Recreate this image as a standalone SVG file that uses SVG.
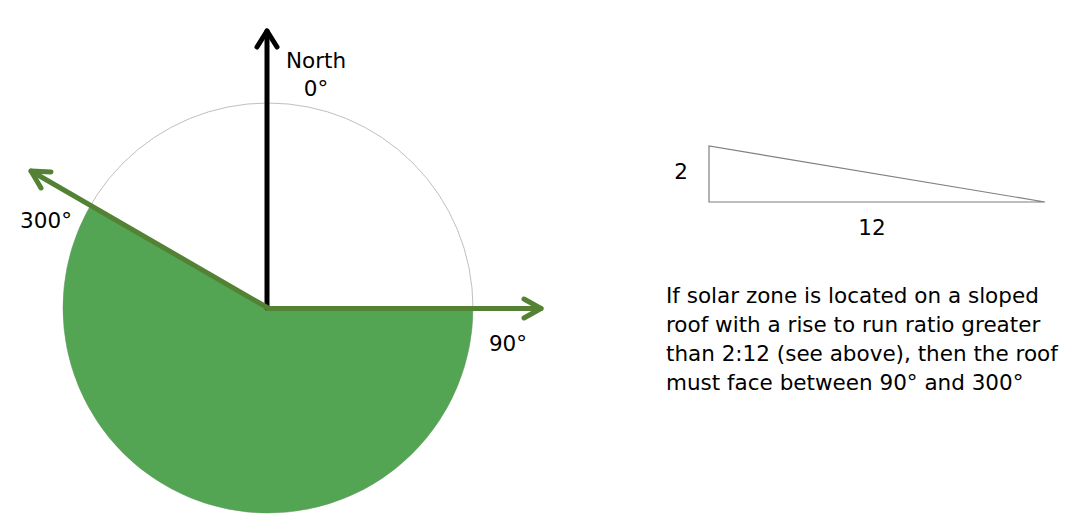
<svg xmlns="http://www.w3.org/2000/svg" width="1070" height="529" viewBox="0 0 1070 529">
<style>
text{font-family:"DejaVu Sans","Liberation Sans",sans-serif;font-size:21.5px;fill:#000}
.garrow{stroke:#548235;stroke-width:5;fill:none;stroke-linecap:round;stroke-linejoin:round}
.karrow{stroke:#000;stroke-width:5;fill:none;stroke-linecap:round;stroke-linejoin:round}
</style>
<rect width="1070" height="529" fill="#fff"/>
<g id="compass">
<circle cx="268" cy="308" r="205" fill="none" stroke="#BFBFBF" stroke-width="1"/>
<path d="M268,308 L473,308 A205,205 0 1 1 90.5,205.5 Z" fill="#53A553"/>
</g>
<g id="connectors">
<g id="north-arrow">
<line class="karrow" x1="267" y1="308" x2="267" y2="31"/>
<polyline class="karrow" points="257,47 267,31 277,47"/>
</g>
<g id="arrow-300">
<line class="garrow" x1="268" y1="308" x2="31" y2="171"/>
<polyline class="garrow" points="51,172 31,171 41,188"/>
</g>
<g id="arrow-90">
<line class="garrow" x1="268" y1="308.5" x2="541" y2="308.5"/>
<polyline class="garrow" points="524,299 541,308.5 524,318"/>
</g>
</g>
<g id="labels">
<text x="316" y="68" text-anchor="middle">North</text>
<text x="316" y="96" text-anchor="middle">0°</text>
<text x="46" y="228" text-anchor="middle">300°</text>
<text x="508" y="351" text-anchor="middle">90°</text>
</g>
<g id="slope">
<path d="M709,146 L709,202 L1045,202 Z" fill="#fff" stroke="#7F7F7F" stroke-width="1.2"/>
<text x="681" y="179" text-anchor="middle">2</text>
<text x="872" y="235" text-anchor="middle">12</text>
</g>
<g id="note">
<text x="666" y="303">If solar zone is located on a sloped</text>
<text x="666" y="332">roof with a rise to run ratio greater</text>
<text x="666" y="361">than 2:12 (see above), then the roof</text>
<text x="666" y="390">must face between 90° and 300°</text>
</g>
</svg>
